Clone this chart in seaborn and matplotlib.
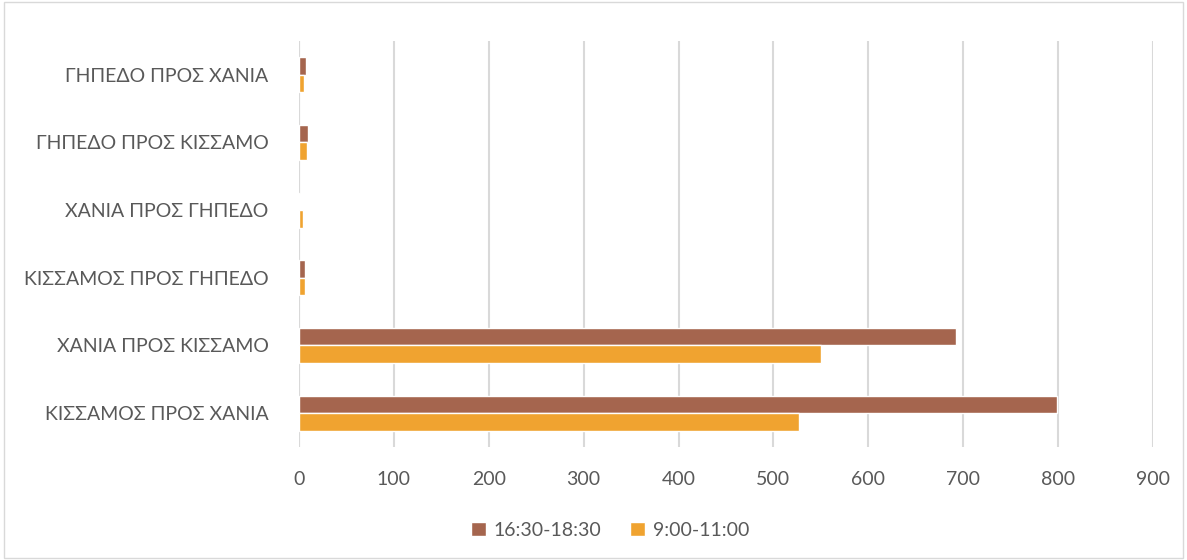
import matplotlib
matplotlib.use("Agg")
import matplotlib.pyplot as plt
import seaborn as sns
import pandas as pd
from matplotlib.patches import Rectangle

routes = [
    "ΓΗΠΕΔΟ ΠΡΟΣ ΧΑΝΙΑ",
    "ΓΗΠΕΔΟ ΠΡΟΣ ΚΙΣΣΑΜΟ",
    "ΧΑΝΙΑ ΠΡΟΣ ΓΗΠΕΔΟ",
    "ΚΙΣΣΑΜΟΣ ΠΡΟΣ ΓΗΠΕΔΟ",
    "ΧΑΝΙΑ ΠΡΟΣ ΚΙΣΣΑΜΟ",
    "ΚΙΣΣΑΜΟΣ ΠΡΟΣ ΧΑΝΙΑ",
]
evening = [7, 9, 1, 6, 692, 799]
morning = [5, 8, 4, 6, 550, 527]
periods = ["16:30-18:30", "9:00-11:00"]
x_ticks = [0, 100, 200, 300, 400, 500, 600, 700, 800, 900]

df = pd.DataFrame({
    "route": routes * 2,
    "period": [periods[0]] * len(routes) + [periods[1]] * len(routes),
    "count": evening + morning,
})

sns.set_theme(style="white")
plt.rcParams["font.family"] = ["Lato", "DejaVu Sans"]
text_color = "#595959"

fig = plt.figure(figsize=(11.87, 5.60), dpi=100)
ax = fig.add_axes([0.2519, 0.2018, 0.7194, 0.7250])

sns.barplot(
    data=df, y="route", x="count", hue="period", order=routes,
    hue_order=periods, palette=["#A5654E", "#F0A330"], orient="h",
    width=0.52, saturation=1, ax=ax, zorder=3,
)

ax.set_xlim(0, 900)
ax.set_xticks(x_ticks)
ax.set_ylim(5.5, -0.5)
ax.grid(axis="x", color="#D9D9D9", linewidth=1.5, zorder=0)
ax.grid(axis="y", visible=False)
for s in ax.spines.values():
    s.set_visible(False)
ax.axvline(0, color="#D9D9D9", linewidth=1.5, zorder=1)
ax.set_xlabel("")
ax.set_ylabel("")
ax.tick_params(axis="both", length=0, labelsize=14, colors=text_color)
ax.tick_params(axis="y", pad=22)
ax.tick_params(axis="x", pad=17)

handles, labels = ax.get_legend_handles_labels()
ax.legend(handles, labels, loc="center", bbox_to_anchor=(0.514, 0.053),
          bbox_transform=fig.transFigure, ncol=2, frameon=False,
          fontsize=14, labelcolor=text_color, handlelength=0.75,
          handleheight=0.75, handletextpad=0.4, columnspacing=1.5)

fig.patches.append(Rectangle((0.003, 0.003), 0.994, 0.994, transform=fig.transFigure,
                             fill=False, edgecolor="#D9D9D9", linewidth=1))

fig.savefig("out.png", dpi=100)
